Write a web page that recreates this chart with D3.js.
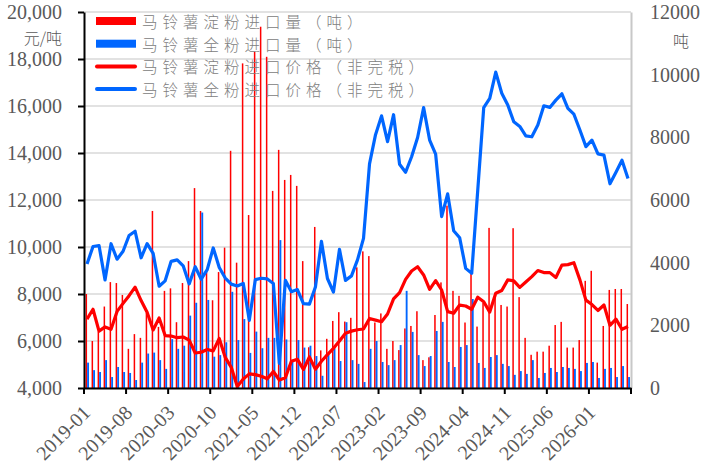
<!DOCTYPE html>
<html>
<head>
<meta charset="utf-8">
<script src="https://cdn.jsdelivr.net/npm/d3@7"></script>
<style>
  body { margin: 0; background: #fff; }
</style>
</head>
<body>
<div class="chart"></div>
<script>
// data
const months = [
  "2019-01","2019-02","2019-03","2019-04","2019-05","2019-06","2019-07","2019-08","2019-09","2019-10","2019-11","2019-12",
  "2020-01","2020-02","2020-03","2020-04","2020-05","2020-06","2020-07","2020-08","2020-09","2020-10","2020-11","2020-12",
  "2021-01","2021-02","2021-03","2021-04","2021-05","2021-06","2021-07","2021-08","2021-09","2021-10","2021-11","2021-12",
  "2022-01","2022-02","2022-03","2022-04","2022-05","2022-06","2022-07","2022-08","2022-09","2022-10","2022-11","2022-12",
  "2023-01","2023-02","2023-03","2023-04","2023-05","2023-06","2023-07","2023-08","2023-09","2023-10","2023-11","2023-12",
  "2024-01","2024-02","2024-03","2024-04","2024-05","2024-06","2024-07","2024-08","2024-09","2024-10","2024-11","2024-12",
  "2025-01","2025-02","2025-03","2025-04","2025-05","2025-06","2025-07","2025-08","2025-09","2025-10","2025-11","2025-12",
  "2026-01","2026-02","2026-03","2026-04","2026-05","2026-06","2026-07"
]

const tickLabels = ["2019-01","2019-08","2020-03","2020-10","2021-05","2021-12","2022-07",
  "2023-02","2023-09","2024-04","2024-11","2025-06","2026-01"]

// 马铃薯淀粉进口量（吨）
const starchQty = [
  3000,1500,1800,2600,3380,3350,2970,1250,1720,1600,2400,5650,
  1950,3100,3180,2100,3350,4050,6380,5650,3700,2800,3700,4480,
  7570,4000,10360,5520,10730,11530,10570,6290,7600,6640,6800,6450,
  4050,1300,5140,1200,1570,2140,2420,2120,2240,3850,4360,4210,
  2090,2380,1250,1500,1210,1900,1980,2450,890,980,2330,3370,
  5820,3100,2940,2090,3640,1960,2720,5110,2900,2650,2600,5100,
  2900,1600,1060,1160,1160,1350,2010,2110,1290,1290,1530,3420,
  3740,810,1980,3130,3160,3160,2680
]

// 马铃薯全粉进口量（吨）
const flourQty = [
  810,570,510,890,350,670,510,480,255,810,1100,1130,
  890,610,1560,1250,1350,2310,2720,5600,2810,1000,1050,1460,
  3070,1530,2200,1120,1800,1270,1600,1600,4720,1550,900,1530,
  1290,1350,1020,390,1080,1270,860,2100,890,770,190,1250,
  1500,830,730,890,1370,3100,1790,1050,700,1020,1820,2110,
  830,670,1310,1370,2840,800,640,990,1050,770,700,420,
  540,450,890,320,480,640,510,670,640,610,540,800,
  830,320,610,640,350,700,350
]

// 马铃薯淀粉进口价格（非完税）
const starchPrice = [
  6930,7350,6420,6600,6500,7260,7600,7930,8290,7720,7220,6470,
  6980,6230,6210,6140,6170,6040,5490,5520,5640,5580,6110,5300,
  4880,4060,4380,4600,4570,4500,4390,4700,4340,4440,5140,5220,
  4790,5320,4800,5140,5420,5690,6000,6330,6420,6480,6510,6960,
  6890,6820,7150,7790,8060,8620,8980,9160,8810,8200,8570,8170,
  7250,7180,7530,7490,7350,7860,7670,7230,8030,8150,8600,8560,
  8280,8510,8740,9000,8910,8910,8700,9230,9250,9330,8600,7740,
  7550,7300,7530,6670,6930,6500,6620
]

// 马铃薯全粉进口价格（非完税）
const flourPrice = [
  9280,10020,10060,8600,10140,9480,9820,10490,10670,9540,10140,9730,
  8330,8560,9390,9450,9200,8430,9160,8630,9040,9960,9130,8680,
  8420,8340,8450,6880,8610,8670,8640,8450,5050,8580,8100,8190,
  7590,7570,8300,10240,8660,8080,9900,8580,8770,9450,10370,13540,
  14780,15580,14480,15630,13520,13180,13840,14660,15930,14550,13950,11290,
  12260,10690,10390,9090,8880,12400,15930,16320,17440,16540,16040,15330,
  15130,14730,14690,15190,16010,15940,16250,16520,15900,15650,14980,14270,
  14550,13960,13910,12690,13180,13690,12920
]

const leftTicks = [4000,6000,8000,10000,12000,14000,16000,18000,20000]
const rightTicks = [0,2000,4000,6000,8000,10000,12000]

const legendNames = ["马铃薯淀粉进口量（吨）","马铃薯全粉进口量（吨）",
  "马铃薯淀粉进口价格（非完税）","马铃薯全粉进口价格（非完税）"]

const red = "#ff0000"
const blue = "#0066ff"
const serif = "'Liberation Serif', 'Times New Roman', serif"
const cjk = "'Noto Sans CJK SC', sans-serif"

const w = 710
const h = 473
const plotLeft = 84, plotRight = 631, plotTop = 12, plotBottom = 388

const svg = d3.select(".chart")
  .append("svg")
  .attr("width", w)
  .attr("height", h)
  .style("background-color", "#fff")

const xScale = d3.scaleBand().domain(months).range([plotLeft, plotRight])
const bw = xScale.bandwidth()
const yLeft = d3.scaleLinear().domain([4000, 20000]).range([plotBottom, plotTop])
const yRight = d3.scaleLinear().domain([0, 12000]).range([plotBottom, plotTop])

// gridlines
svg.append("g")
  .selectAll("line")
  .data(leftTicks)
  .enter()
  .append("line")
  .attr("x1", plotLeft)
  .attr("x2", plotRight)
  .attr("y1", d => yLeft(d))
  .attr("y2", d => yLeft(d))
  .attr("stroke", "#d9d9d9")
  .attr("stroke-width", 1.6)

// right axis
const rightAxis = svg.append("g")
  .attr("transform", "translate(" + plotRight + ",0)")
  .call(d3.axisRight(yRight).tickValues(rightTicks).tickSize(0).tickPadding(19).tickFormat(d3.format("d")))
rightAxis.select(".domain").attr("stroke", "#c8c8c8").attr("stroke-width", 2)
rightAxis.selectAll("text")
  .style("font-family", serif)
  .style("font-size", "20px")
  .attr("fill", "#595959")

// bars
svg.append("g")
  .selectAll("rect")
  .data(starchQty)
  .enter()
  .append("rect")
  .attr("x", (d, i) => xScale(months[i]) + bw * 0.26)
  .attr("width", bw * 0.25)
  .attr("y", d => yRight(d))
  .attr("height", d => plotBottom - yRight(d))
  .attr("fill", red)

svg.append("g")
  .selectAll("rect")
  .data(flourQty)
  .enter()
  .append("rect")
  .attr("x", (d, i) => xScale(months[i]) + bw * 0.52)
  .attr("width", bw * 0.31)
  .attr("y", d => yRight(d))
  .attr("height", d => plotBottom - yRight(d))
  .attr("fill", blue)

// price lines
const priceLine = d3.line()
  .x((d, i) => xScale(months[i]) + bw / 2)
  .y(d => yLeft(d))

svg.append("path")
  .datum(starchPrice)
  .attr("d", priceLine)
  .attr("fill", "none")
  .attr("stroke", red)
  .attr("stroke-width", 3.2)
  .attr("stroke-linejoin", "round")

svg.append("path")
  .datum(flourPrice)
  .attr("d", priceLine)
  .attr("fill", "none")
  .attr("stroke", blue)
  .attr("stroke-width", 3.2)
  .attr("stroke-linejoin", "round")

// left axis
const leftAxis = svg.append("g")
  .attr("transform", "translate(" + plotLeft + ",0)")
  .call(d3.axisLeft(yLeft).tickValues(leftTicks).tickSize(6).tickSizeOuter(0).tickPadding(16).tickFormat(d3.format(",")))
leftAxis.select(".domain").attr("stroke", "#000").attr("stroke-width", 2)
leftAxis.selectAll(".tick line").attr("stroke", "#000").attr("stroke-width", 2)
leftAxis.selectAll("text")
  .style("font-family", serif)
  .style("font-size", "20px")
  .attr("fill", "#595959")

// bottom axis
svg.append("g")
  .attr("transform", "translate(0," + plotBottom + ")")
  .call(d3.axisBottom(xScale).tickValues([]).tickSizeOuter(0))
  .select(".domain")
  .attr("stroke", "#000")
  .attr("stroke-width", 2)

const tickPos = tickLabels.map(t => xScale(t)).concat([plotRight])
svg.append("g")
  .selectAll("line")
  .data(tickPos)
  .enter()
  .append("line")
  .attr("x1", d => d)
  .attr("x2", d => d)
  .attr("y1", plotBottom)
  .attr("y2", plotBottom + 6)
  .attr("stroke", "#000")
  .attr("stroke-width", 2)

svg.append("g")
  .selectAll("text")
  .data(tickLabels)
  .enter()
  .append("text")
  .attr("transform", d => "translate(" + (xScale(d) + bw / 2 + 4.6) + "," + 414 + ") rotate(-45)")
  .attr("text-anchor", "end")
  .style("font-family", serif)
  .style("font-size", "20px")
  .attr("fill", "#595959")
  .text(d => d)

// unit labels
svg.append("text")
  .attr("x", 62)
  .attr("y", 37)
  .attr("text-anchor", "end")
  .attr("dominant-baseline", "central")
  .style("font-family", cjk)
  .style("font-size", "16px")
  .style("font-weight", 300)
  .attr("fill", "#595959")
  .text("元/吨")

svg.append("text")
  .attr("x", 681)
  .attr("y", 40)
  .attr("text-anchor", "middle")
  .attr("dominant-baseline", "central")
  .style("font-family", cjk)
  .style("font-size", "16px")
  .style("font-weight", 300)
  .attr("fill", "#595959")
  .text("吨")

// legend
const legendY = [21, 43.7, 66.4, 89.1]
const legend = svg.append("g")

legend.selectAll("rect")
  .data([red, blue])
  .enter()
  .append("rect")
  .attr("x", 96)
  .attr("y", (d, i) => legendY[i] - 4)
  .attr("width", 40)
  .attr("height", 8)
  .attr("fill", d => d)

legend.selectAll("line")
  .data([red, blue])
  .enter()
  .append("line")
  .attr("x1", 97)
  .attr("x2", 135)
  .attr("y1", (d, i) => legendY[i + 2])
  .attr("y2", (d, i) => legendY[i + 2])
  .attr("stroke", d => d)
  .attr("stroke-width", 4)
  .attr("stroke-linecap", "round")

legend.selectAll("text")
  .data(legendNames)
  .enter()
  .append("text")
  .attr("x", 142)
  .attr("y", (d, i) => legendY[i])
  .attr("dominant-baseline", "central")
  .style("font-family", cjk)
  .style("font-size", "15.5px")
  .style("font-weight", 300)
  .style("letter-spacing", "5px")
  .attr("fill", "#808080")
  .text(d => d)
</script>
</body>
</html>
